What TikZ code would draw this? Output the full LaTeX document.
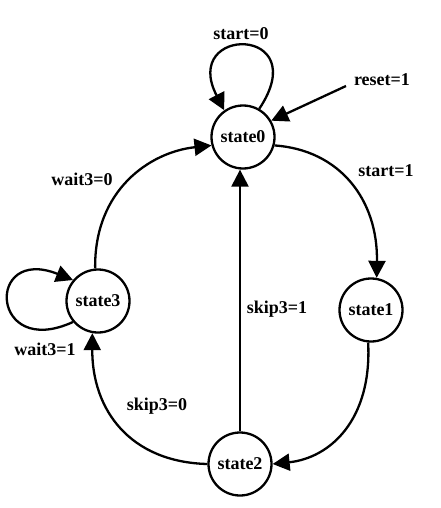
\documentclass[tikz,border=0pt]{standalone}
\usepackage{fontspec}
\setmainfont{Liberation Serif}
\usetikzlibrary{arrows.meta}
\begin{document}
\begin{tikzpicture}[x=1pt,y=-1pt,
  every node/.style={font=\fontsize{18}{20}\selectfont\bfseries},
  st/.style={circle,draw,line width=2.3pt,minimum size=63pt,inner sep=0pt},
  lbl/.style={inner sep=0pt},
  edge/.style={line width=2.3pt,-{Triangle[length=17pt,width=17pt]}}]
\useasboundingbox (0,0) rectangle (440,508);
\node[st] (s0) at (243,137) {state0};
\node[st] (s1) at (371,310) {state1};
\node[st] (s2) at (240,464) {state2};
\node[st] (s3) at (98,301) {state3};
\node[lbl] (l0) at (241,34) {start=0};
\node[lbl] (lr) at (382,80) {reset=1};
\node[lbl] (l1) at (386,171) {start=1};
\node[lbl] (lw0) at (82,179) {wait3=0};
\node[lbl] (lw1) at (45,349) {wait3=1};
\node[lbl] (ls0) at (157,406) {skip3=0};
\node[lbl] (ls1) at (277,309) {skip3=1};
\coordinate (rst) at (346,86);
% self loop state0
\draw[edge] (s0.60) .. controls (315,25) and (180,25) .. (s0.125);
% reset
\draw[edge] (rst) -- (s0.30);
% state0 -> state1
\draw[edge] (s0.-15) .. controls (340,150) and (378,200) .. (s1.80);
% state1 -> state2
\draw[edge] (s1.-95) .. controls (372,420) and (330,458) .. (s2.east);
% state2 -> state3
\draw[edge] (s2.west) .. controls (130,462) and (92,410) .. (s3.-100);
% state2 -> state0
\draw[edge] (s2.north) -- (s2.north |- s0.south);
% state3 -> state0
\draw[edge] (s3.95) .. controls (94,190) and (150,152) .. (s0.-165);
% self loop state3
\draw[edge] (s3.-140) .. controls (-10,360) and (-15,245) .. (s3.140);
\end{tikzpicture}
\end{document}
